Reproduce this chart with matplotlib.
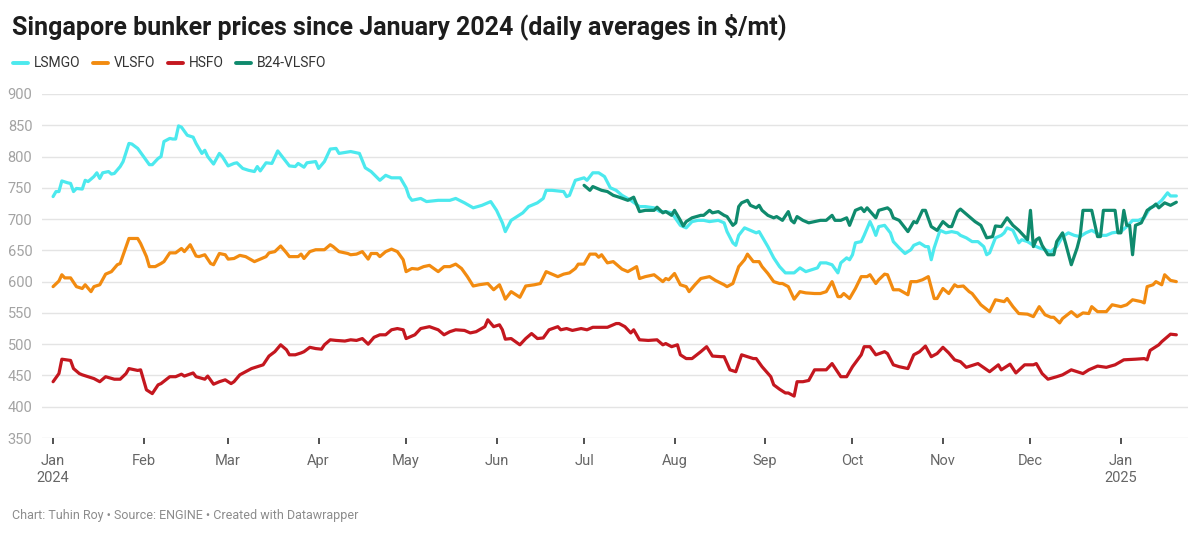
import matplotlib
matplotlib.use("Agg")
import matplotlib.pyplot as plt
import matplotlib.dates as mdates
from matplotlib.lines import Line2D
import pandas as pd

plt.rcParams['font.family'] = ['Roboto', 'DejaVu Sans']

title = "Singapore bunker prices since January 2024 (daily averages in \\$/mt)"
footer = "Chart: Tuhin Roy \u2022 Source: ENGINE \u2022 Created with Datawrapper"

series_names = ["LSMGO", "VLSFO", "HSFO", "B24-VLSFO"]
series_colors = ["#4ce9ee", "#f28b10", "#c4171f", "#0f8a6d"]

lsmgo = [
    ("2024-01-01", 736), ("2024-01-02", 744), ("2024-01-03", 744), ("2024-01-04", 761), ("2024-01-06", 758),
    ("2024-01-07", 757), ("2024-01-08", 744), ("2024-01-09", 749), ("2024-01-11", 748), ("2024-01-12", 762),
    ("2024-01-13", 760), ("2024-01-15", 768), ("2024-01-16", 774), ("2024-01-17", 765), ("2024-01-18", 774),
    ("2024-01-20", 776), ("2024-01-21", 772), ("2024-01-22", 773), ("2024-01-24", 784), ("2024-01-25", 792),
    ("2024-01-27", 821), ("2024-01-28", 820), ("2024-01-30", 813), ("2024-02-01", 800), ("2024-02-03", 787),
    ("2024-02-04", 787), ("2024-02-06", 797), ("2024-02-07", 800), ("2024-02-08", 824), ("2024-02-10", 829),
    ("2024-02-11", 828), ("2024-02-12", 828), ("2024-02-13", 849), ("2024-02-14", 847), ("2024-02-16", 834),
    ("2024-02-18", 831), ("2024-02-19", 821), ("2024-02-21", 805), ("2024-02-22", 810), ("2024-02-23", 800),
    ("2024-02-25", 788), ("2024-02-27", 805), ("2024-02-28", 800), ("2024-03-01", 785), ("2024-03-03", 789),
    ("2024-03-04", 790), ("2024-03-06", 781), ("2024-03-08", 778), ("2024-03-10", 776), ("2024-03-11", 784),
    ("2024-03-12", 777), ("2024-03-14", 790), ("2024-03-16", 789), ("2024-03-18", 809), ("2024-03-20", 797),
    ("2024-03-22", 785), ("2024-03-24", 784), ("2024-03-25", 789), ("2024-03-27", 783), ("2024-03-28", 790),
    ("2024-03-31", 792), ("2024-04-01", 781), ("2024-04-03", 792), ("2024-04-05", 812), ("2024-04-07", 813),
    ("2024-04-08", 805), ("2024-04-12", 808), ("2024-04-15", 805), ("2024-04-17", 782), ("2024-04-19", 776),
    ("2024-04-22", 762), ("2024-04-24", 770), ("2024-04-26", 766), ("2024-04-29", 766), ("2024-05-01", 750),
    ("2024-05-02", 736), ("2024-05-03", 730), ("2024-05-06", 733), ("2024-05-08", 728), ("2024-05-12", 730),
    ("2024-05-16", 730), ("2024-05-18", 733), ("2024-05-21", 726), ("2024-05-24", 718), ("2024-05-27", 722),
    ("2024-05-30", 728), ("2024-06-01", 714), ("2024-06-03", 694), ("2024-06-04", 680), ("2024-06-06", 698),
    ("2024-06-08", 704), ("2024-06-10", 710), ("2024-06-12", 720), ("2024-06-15", 726), ("2024-06-17", 733),
    ("2024-06-18", 746), ("2024-06-20", 746), ("2024-06-24", 744), ("2024-06-25", 736), ("2024-06-26", 738),
    ("2024-06-28", 762), ("2024-07-01", 766), ("2024-07-02", 762), ("2024-07-04", 774), ("2024-07-06", 774),
    ("2024-07-08", 768), ("2024-07-10", 750), ("2024-07-12", 746), ("2024-07-14", 738), ("2024-07-17", 730),
    ("2024-07-20", 720), ("2024-07-22", 720), ("2024-07-25", 718), ("2024-07-27", 712), ("2024-07-29", 712),
    ("2024-07-31", 710), ("2024-08-03", 690), ("2024-08-05", 686), ("2024-08-07", 696), ("2024-08-09", 698),
    ("2024-08-11", 698), ("2024-08-13", 696), ("2024-08-16", 698), ("2024-08-18", 694), ("2024-08-19", 680),
    ("2024-08-21", 662), ("2024-08-22", 658), ("2024-08-23", 674), ("2024-08-25", 686), ("2024-08-27", 682),
    ("2024-08-29", 678), ("2024-08-30", 680), ("2024-09-02", 656), ("2024-09-04", 638), ("2024-09-06", 624),
    ("2024-09-08", 614), ("2024-09-11", 614), ("2024-09-13", 622), ("2024-09-15", 616), ("2024-09-17", 619),
    ("2024-09-19", 622), ("2024-09-20", 630), ("2024-09-22", 630), ("2024-09-24", 627), ("2024-09-26", 614),
    ("2024-09-27", 630), ("2024-09-29", 638), ("2024-09-30", 635), ("2024-10-01", 643), ("2024-10-02", 662),
    ("2024-10-04", 664), ("2024-10-05", 674), ("2024-10-07", 696), ("2024-10-08", 686), ("2024-10-09", 674),
    ("2024-10-10", 688), ("2024-10-12", 690), ("2024-10-14", 678), ("2024-10-15", 664), ("2024-10-17", 654),
    ("2024-10-19", 645), ("2024-10-21", 651), ("2024-10-22", 658), ("2024-10-24", 662), ("2024-10-26", 656),
    ("2024-10-27", 656), ("2024-10-28", 635), ("2024-10-29", 654), ("2024-10-31", 682), ("2024-11-02", 678),
    ("2024-11-04", 680), ("2024-11-06", 678), ("2024-11-07", 674), ("2024-11-09", 670), ("2024-11-11", 664),
    ("2024-11-13", 664), ("2024-11-15", 656), ("2024-11-16", 643), ("2024-11-17", 646), ("2024-11-19", 670),
    ("2024-11-21", 674), ("2024-11-22", 678), ("2024-11-23", 686), ("2024-11-25", 682), ("2024-11-27", 662),
    ("2024-11-28", 667), ("2024-11-30", 664), ("2024-12-02", 658), ("2024-12-04", 654), ("2024-12-06", 651),
    ("2024-12-08", 648), ("2024-12-10", 656), ("2024-12-12", 672), ("2024-12-14", 678), ("2024-12-16", 674),
    ("2024-12-18", 672), ("2024-12-20", 678), ("2024-12-22", 682), ("2024-12-25", 674), ("2024-12-27", 674),
    ("2024-12-29", 678), ("2025-01-01", 680), ("2025-01-03", 688), ("2025-01-05", 698), ("2025-01-07", 698),
    ("2025-01-09", 702), ("2025-01-11", 718), ("2025-01-13", 722), ("2025-01-15", 730), ("2025-01-17", 742),
    ("2025-01-18", 737), ("2025-01-20", 737),
]

vlsfo = [
    ("2024-01-01", 592), ("2024-01-03", 601), ("2024-01-04", 611), ("2024-01-05", 606), ("2024-01-07", 606),
    ("2024-01-09", 592), ("2024-01-11", 589), ("2024-01-12", 595), ("2024-01-14", 584), ("2024-01-15", 592),
    ("2024-01-17", 595), ("2024-01-19", 612), ("2024-01-21", 616), ("2024-01-23", 627), ("2024-01-24", 629),
    ("2024-01-26", 656), ("2024-01-27", 669), ("2024-01-30", 669), ("2024-01-31", 661), ("2024-02-02", 640),
    ("2024-02-03", 624), ("2024-02-05", 624), ("2024-02-07", 629), ("2024-02-08", 632), ("2024-02-10", 646),
    ("2024-02-12", 646), ("2024-02-14", 653), ("2024-02-15", 648), ("2024-02-17", 659), ("2024-02-19", 641),
    ("2024-02-20", 640), ("2024-02-22", 643), ("2024-02-24", 629), ("2024-02-25", 627), ("2024-02-27", 645),
    ("2024-02-29", 643), ("2024-03-01", 636), ("2024-03-03", 637), ("2024-03-05", 642), ("2024-03-07", 640),
    ("2024-03-10", 632), ("2024-03-12", 636), ("2024-03-14", 640), ("2024-03-15", 646), ("2024-03-17", 648),
    ("2024-03-19", 657), ("2024-03-21", 646), ("2024-03-22", 640), ("2024-03-25", 640), ("2024-03-26", 644),
    ("2024-03-27", 637), ("2024-03-29", 648), ("2024-03-31", 651), ("2024-04-03", 651), ("2024-04-05", 659),
    ("2024-04-06", 656), ("2024-04-08", 648), ("2024-04-11", 645), ("2024-04-12", 643), ("2024-04-14", 644),
    ("2024-04-16", 648), ("2024-04-18", 636), ("2024-04-19", 645), ("2024-04-21", 645), ("2024-04-22", 640),
    ("2024-04-24", 648), ("2024-04-26", 652), ("2024-04-28", 648), ("2024-04-30", 635), ("2024-05-01", 616),
    ("2024-05-03", 621), ("2024-05-05", 620), ("2024-05-07", 624), ("2024-05-09", 626), ("2024-05-12", 616),
    ("2024-05-14", 624), ("2024-05-16", 624), ("2024-05-18", 628), ("2024-05-20", 621), ("2024-05-22", 608),
    ("2024-05-24", 593), ("2024-05-26", 595), ("2024-05-29", 597), ("2024-05-31", 587), ("2024-06-02", 595),
    ("2024-06-03", 584), ("2024-06-04", 572), ("2024-06-06", 584), ("2024-06-09", 575), ("2024-06-11", 593),
    ("2024-06-14", 595), ("2024-06-16", 597), ("2024-06-18", 616), ("2024-06-20", 612), ("2024-06-22", 608),
    ("2024-06-24", 612), ("2024-06-26", 614), ("2024-06-28", 621), ("2024-06-29", 628), ("2024-07-01", 628),
    ("2024-07-03", 644), ("2024-07-05", 644), ("2024-07-06", 639), ("2024-07-07", 643), ("2024-07-09", 630),
    ("2024-07-11", 632), ("2024-07-13", 624), ("2024-07-14", 620), ("2024-07-16", 616), ("2024-07-19", 624),
    ("2024-07-20", 605), ("2024-07-22", 608), ("2024-07-25", 611), ("2024-07-28", 600), ("2024-07-29", 605),
    ("2024-07-30", 603), ("2024-08-01", 613), ("2024-08-03", 595), ("2024-08-05", 592), ("2024-08-06", 584),
    ("2024-08-08", 595), ("2024-08-10", 605), ("2024-08-13", 608), ("2024-08-15", 602), ("2024-08-18", 595),
    ("2024-08-19", 592), ("2024-08-21", 597), ("2024-08-23", 624), ("2024-08-25", 635), ("2024-08-26", 644),
    ("2024-08-28", 632), ("2024-08-30", 632), ("2024-08-31", 624), ("2024-09-02", 613), ("2024-09-04", 600),
    ("2024-09-06", 597), ("2024-09-07", 597), ("2024-09-09", 592), ("2024-09-11", 572), ("2024-09-13", 584),
    ("2024-09-15", 582), ("2024-09-18", 581), ("2024-09-20", 581), ("2024-09-22", 584), ("2024-09-24", 600),
    ("2024-09-26", 576), ("2024-09-27", 576), ("2024-09-28", 581), ("2024-09-30", 573), ("2024-10-02", 589),
    ("2024-10-04", 608), ("2024-10-06", 608), ("2024-10-07", 611), ("2024-10-09", 597), ("2024-10-10", 603),
    ("2024-10-12", 612), ("2024-10-13", 611), ("2024-10-15", 587), ("2024-10-17", 587), ("2024-10-20", 579),
    ("2024-10-21", 600), ("2024-10-23", 600), ("2024-10-25", 603), ("2024-10-27", 608), ("2024-10-29", 573),
    ("2024-10-30", 573), ("2024-11-01", 589), ("2024-11-03", 581), ("2024-11-05", 595), ("2024-11-06", 592),
    ("2024-11-08", 593), ("2024-11-10", 584), ("2024-11-11", 581), ("2024-11-14", 563), ("2024-11-17", 552),
    ("2024-11-19", 571), ("2024-11-22", 568), ("2024-11-23", 573), ("2024-11-25", 560), ("2024-11-27", 549),
    ("2024-11-30", 548), ("2024-12-02", 544), ("2024-12-04", 560), ("2024-12-06", 547), ("2024-12-08", 543),
    ("2024-12-09", 543), ("2024-12-11", 534), ("2024-12-12", 541), ("2024-12-15", 552), ("2024-12-17", 544),
    ("2024-12-19", 550), ("2024-12-21", 549), ("2024-12-22", 560), ("2024-12-24", 552), ("2024-12-27", 552),
    ("2024-12-29", 563), ("2025-01-01", 560), ("2025-01-03", 563), ("2025-01-05", 571), ("2025-01-08", 568),
    ("2025-01-09", 566), ("2025-01-10", 592), ("2025-01-12", 595), ("2025-01-13", 600), ("2025-01-15", 595),
    ("2025-01-16", 611), ("2025-01-18", 602), ("2025-01-20", 600),
]

hsfo = [
    ("2024-01-01", 440), ("2024-01-03", 453), ("2024-01-04", 476), ("2024-01-07", 474), ("2024-01-08", 461),
    ("2024-01-10", 453), ("2024-01-11", 451), ("2024-01-13", 448), ("2024-01-15", 445), ("2024-01-17", 440),
    ("2024-01-19", 448), ("2024-01-22", 444), ("2024-01-24", 444), ("2024-01-26", 453), ("2024-01-27", 461),
    ("2024-01-30", 458), ("2024-01-31", 459), ("2024-02-02", 427), ("2024-02-04", 421), ("2024-02-06", 435),
    ("2024-02-07", 437), ("2024-02-10", 448), ("2024-02-12", 448), ("2024-02-14", 452), ("2024-02-15", 449),
    ("2024-02-18", 454), ("2024-02-19", 448), ("2024-02-22", 444), ("2024-02-23", 449), ("2024-02-25", 436),
    ("2024-02-27", 440), ("2024-02-29", 443), ("2024-03-02", 437), ("2024-03-03", 440), ("2024-03-05", 451),
    ("2024-03-07", 456), ("2024-03-09", 461), ("2024-03-11", 464), ("2024-03-13", 467), ("2024-03-15", 481),
    ("2024-03-17", 488), ("2024-03-19", 499), ("2024-03-21", 491), ("2024-03-22", 483), ("2024-03-24", 483),
    ("2024-03-26", 486), ("2024-03-27", 488), ("2024-03-29", 495), ("2024-03-31", 493), ("2024-04-02", 492),
    ("2024-04-03", 499), ("2024-04-05", 507), ("2024-04-07", 506), ("2024-04-10", 505), ("2024-04-12", 507),
    ("2024-04-14", 506), ("2024-04-16", 509), ("2024-04-18", 500), ("2024-04-20", 511), ("2024-04-22", 515),
    ("2024-04-24", 515), ("2024-04-26", 523), ("2024-04-28", 525), ("2024-04-30", 523), ("2024-05-01", 509),
    ("2024-05-04", 515), ("2024-05-06", 525), ("2024-05-09", 528), ("2024-05-12", 523), ("2024-05-14", 515),
    ("2024-05-16", 520), ("2024-05-18", 523), ("2024-05-21", 522), ("2024-05-23", 518), ("2024-05-25", 520),
    ("2024-05-28", 528), ("2024-05-29", 539), ("2024-05-31", 528), ("2024-06-02", 531), ("2024-06-03", 523),
    ("2024-06-04", 508), ("2024-06-06", 509), ("2024-06-09", 499), ("2024-06-11", 509), ("2024-06-13", 517),
    ("2024-06-15", 509), ("2024-06-17", 510), ("2024-06-19", 523), ("2024-06-22", 528), ("2024-06-23", 523),
    ("2024-06-25", 525), ("2024-06-27", 522), ("2024-06-30", 525), ("2024-07-02", 523), ("2024-07-04", 527),
    ("2024-07-07", 527), ("2024-07-09", 527), ("2024-07-12", 533), ("2024-07-13", 533), ("2024-07-15", 528),
    ("2024-07-17", 518), ("2024-07-18", 523), ("2024-07-20", 507), ("2024-07-23", 506), ("2024-07-26", 507),
    ("2024-07-28", 499), ("2024-07-29", 501), ("2024-07-31", 496), ("2024-08-02", 499), ("2024-08-03", 483),
    ("2024-08-05", 477), ("2024-08-07", 477), ("2024-08-10", 488), ("2024-08-12", 496), ("2024-08-14", 481),
    ("2024-08-17", 480), ("2024-08-18", 480), ("2024-08-20", 459), ("2024-08-22", 456), ("2024-08-24", 483),
    ("2024-08-26", 480), ("2024-08-28", 477), ("2024-08-29", 477), ("2024-08-31", 464), ("2024-09-03", 448),
    ("2024-09-04", 435), ("2024-09-06", 428), ("2024-09-08", 422), ("2024-09-09", 422), ("2024-09-11", 417),
    ("2024-09-12", 440), ("2024-09-14", 440), ("2024-09-16", 442), ("2024-09-18", 459), ("2024-09-20", 459),
    ("2024-09-22", 459), ("2024-09-24", 469), ("2024-09-27", 448), ("2024-09-29", 448), ("2024-10-01", 464),
    ("2024-10-04", 483), ("2024-10-05", 496), ("2024-10-07", 496), ("2024-10-09", 483), ("2024-10-12", 488),
    ("2024-10-13", 485), ("2024-10-15", 467), ("2024-10-17", 464), ("2024-10-20", 461), ("2024-10-22", 483),
    ("2024-10-24", 488), ("2024-10-26", 497), ("2024-10-28", 480), ("2024-10-30", 485), ("2024-11-01", 495),
    ("2024-11-03", 486), ("2024-11-05", 475), ("2024-11-07", 472), ("2024-11-09", 463), ("2024-11-13", 469),
    ("2024-11-17", 456), ("2024-11-20", 467), ("2024-11-21", 459), ("2024-11-24", 468), ("2024-11-26", 454),
    ("2024-11-29", 467), ("2024-12-02", 467), ("2024-12-03", 469), ("2024-12-05", 453), ("2024-12-07", 444),
    ("2024-12-10", 448), ("2024-12-12", 451), ("2024-12-15", 459), ("2024-12-19", 453), ("2024-12-21", 459),
    ("2024-12-24", 465), ("2024-12-27", 463), ("2024-12-30", 467), ("2025-01-02", 475), ("2025-01-06", 476),
    ("2025-01-09", 477), ("2025-01-10", 475), ("2025-01-11", 490), ("2025-01-12", 493), ("2025-01-14", 499),
    ("2025-01-15", 504), ("2025-01-18", 516), ("2025-01-20", 515),
]

b24_vlsfo = [
    ("2024-07-01", 754), ("2024-07-03", 746), ("2024-07-04", 752), ("2024-07-07", 746), ("2024-07-09", 744),
    ("2024-07-11", 738), ("2024-07-13", 735), ("2024-07-16", 730), ("2024-07-18", 735), ("2024-07-20", 712),
    ("2024-07-22", 714), ("2024-07-25", 714), ("2024-07-26", 719), ("2024-07-28", 710), ("2024-07-29", 712),
    ("2024-07-31", 706), ("2024-08-01", 714), ("2024-08-03", 698), ("2024-08-04", 689), ("2024-08-05", 696),
    ("2024-08-07", 702), ("2024-08-10", 706), ("2024-08-11", 706), ("2024-08-13", 714), ("2024-08-14", 710),
    ("2024-08-16", 712), ("2024-08-18", 706), ("2024-08-19", 704), ("2024-08-21", 690), ("2024-08-22", 694),
    ("2024-08-23", 720), ("2024-08-24", 726), ("2024-08-26", 730), ("2024-08-27", 722), ("2024-08-29", 718),
    ("2024-08-30", 722), ("2024-08-31", 714), ("2024-09-02", 706), ("2024-09-04", 702), ("2024-09-05", 704),
    ("2024-09-07", 698), ("2024-09-09", 712), ("2024-09-10", 698), ("2024-09-11", 694), ("2024-09-12", 704),
    ("2024-09-14", 698), ("2024-09-16", 694), ("2024-09-18", 696), ("2024-09-20", 698), ("2024-09-22", 698),
    ("2024-09-24", 706), ("2024-09-25", 698), ("2024-09-27", 698), ("2024-09-29", 702), ("2024-09-30", 690),
    ("2024-10-02", 714), ("2024-10-04", 718), ("2024-10-05", 712), ("2024-10-06", 718), ("2024-10-09", 702),
    ("2024-10-10", 714), ("2024-10-13", 718), ("2024-10-14", 714), ("2024-10-15", 702), ("2024-10-17", 698),
    ("2024-10-20", 680), ("2024-10-22", 696), ("2024-10-23", 694), ("2024-10-25", 714), ("2024-10-26", 714),
    ("2024-10-28", 688), ("2024-10-30", 682), ("2024-11-01", 696), ("2024-11-03", 688), ("2024-11-04", 688),
    ("2024-11-06", 712), ("2024-11-07", 716), ("2024-11-10", 704), ("2024-11-12", 696), ("2024-11-14", 690),
    ("2024-11-16", 670), ("2024-11-18", 672), ("2024-11-19", 689), ("2024-11-21", 688), ("2024-11-23", 702),
    ("2024-11-25", 690), ("2024-11-27", 682), ("2024-11-29", 672), ("2024-11-30", 667), ("2024-12-01", 714),
    ("2024-12-02", 656), ("2024-12-03", 667), ("2024-12-04", 670), ("2024-12-05", 658), ("2024-12-07", 643),
    ("2024-12-09", 643), ("2024-12-10", 664), ("2024-12-12", 678), ("2024-12-13", 662), ("2024-12-15", 627),
    ("2024-12-17", 654), ("2024-12-18", 672), ("2024-12-19", 714), ("2024-12-22", 714), ("2024-12-24", 672),
    ("2024-12-25", 672), ("2024-12-26", 714), ("2024-12-30", 714), ("2024-12-31", 678), ("2025-01-01", 678),
    ("2025-01-02", 714), ("2025-01-03", 690), ("2025-01-04", 690), ("2025-01-05", 643), ("2025-01-06", 690),
    ("2025-01-08", 694), ("2025-01-10", 714), ("2025-01-12", 720), ("2025-01-13", 724), ("2025-01-14", 718),
    ("2025-01-16", 726), ("2025-01-18", 722), ("2025-01-20", 727),
]

y_ticks = list(range(350, 901, 50))
month_ticks = pd.date_range("2024-01-01", "2025-01-01", freq="MS")
month_labels = ["Jan\n2024", "Feb", "Mar", "Apr", "May", "Jun", "Jul",
                "Aug", "Sep", "Oct", "Nov", "Dec", "Jan\n2025"]

W, H = 1200, 534


def fx(px):
    return px / W


def fy(py):
    return 1 - py / H


fig = plt.figure(figsize=(W / 100, H / 100), dpi=100)
ax = fig.add_axes([fx(42), fy(438), (1188 - 42) / W, (438 - 94) / H])

for data, name, color in zip([lsmgo, vlsfo, hsfo, b24_vlsfo], series_names, series_colors):
    dates = pd.to_datetime([d for d, _ in data])
    vals = [v for _, v in data]
    ax.plot(dates, vals, color=color, lw=2.3, solid_joinstyle="round", solid_capstyle="round")

start = pd.Timestamp("2024-01-01")
ax.set_xlim(start - pd.Timedelta(days=3.8), start + pd.Timedelta(days=389))
ax.set_ylim(350, 900)

ax.set_yticks(y_ticks)
ax.set_yticklabels([str(t) for t in y_ticks])
ax.tick_params(axis="y", length=0, pad=7, labelsize=10.5, labelcolor="#a3a3a3")
ax.grid(axis="y", color="#e4e4e4", lw=1)
ax.set_axisbelow(True)

ax.set_xticks(month_ticks)
ax.set_xticklabels(month_labels)
ax.tick_params(axis="x", length=4, width=1.2, color="#333333", pad=7.5,
               labelsize=10.5, labelcolor="#666666")
for lbl in ax.get_xticklabels():
    lbl.set_linespacing(1.3)

for s in ax.spines.values():
    s.set_visible(False)

fig.text(fx(12), fy(26.5), title, fontsize=18, fontweight="bold", color="#1d1d1d",
         ha="left", va="center")

# legend drawn by hand, Datawrapper style
fig.canvas.draw()
renderer = fig.canvas.get_renderer()
x = 13
for name, color in zip(series_names, series_colors):
    fig.add_artist(Line2D([fx(x), fx(x + 15)], [fy(63), fy(63)], color=color, lw=2.8,
                          solid_capstyle="round"))
    t = fig.text(fx(x + 20.5), fy(63), name, fontsize=10, color="#333333", ha="left", va="center")
    w = t.get_window_extent(renderer).width
    x = x + 20.5 + w + 13

fig.text(fx(12), fy(515), footer, fontsize=9, color="#8c8c8c", ha="left", va="center")

fig.savefig("out.png", dpi=100, facecolor="white")
